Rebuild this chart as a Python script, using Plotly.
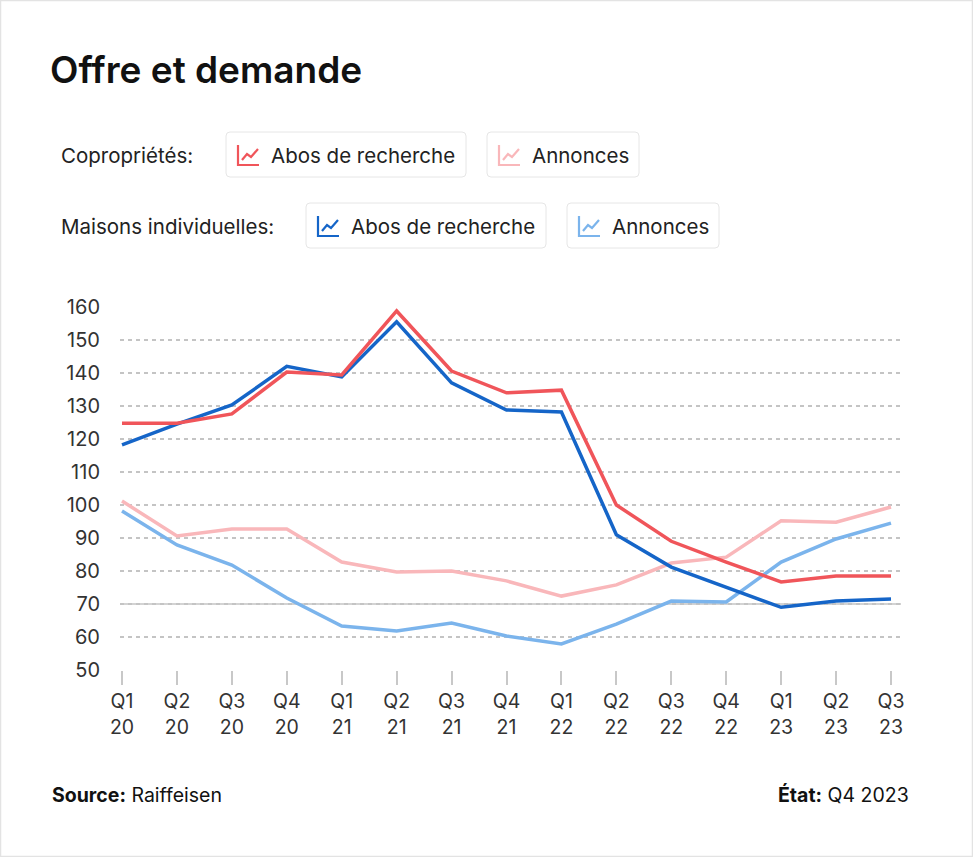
import plotly.graph_objects as go

# ---------------- data ----------------
quarters = ["Q1", "Q2", "Q3", "Q4", "Q1", "Q2", "Q3", "Q4", "Q1", "Q2", "Q3", "Q4", "Q1", "Q2", "Q3"]
years = ["20", "20", "20", "20", "21", "21", "21", "21", "22", "22", "22", "22", "23", "23", "23"]
tick_labels = [f"{q}<br>{y}" for q, y in zip(quarters, years)]

copro_abos = [124.8, 124.8, 127.6, 140.3, 139.4, 158.8, 140.6, 134.0, 134.8, 100.0, 89.0, 82.7, 76.7, 78.5, 78.5]
copro_annonces = [101.2, 90.6, 92.7, 92.7, 82.7, 79.7, 80.0, 77.0, 72.4, 75.8, 82.4, 84.2, 95.2, 94.8, 99.4]
maisons_abos = [118.2, 124.5, 130.3, 142.0, 138.8, 155.5, 137.0, 128.8, 128.2, 91.0, 81.2, 75.0, 69.0, 70.9, 71.5]
maisons_annonces = [98.2, 87.9, 81.8, 71.8, 63.3, 61.8, 64.2, 60.3, 57.9, 63.9, 70.9, 70.6, 82.7, 89.7, 94.5]

y_ticks = [50, 60, 70, 80, 90, 100, 110, 120, 130, 140, 150, 160]

RED = "#F0555A"
PINK = "#F9B7BA"
BLUE = "#1565C8"
LBLUE = "#7BB4EC"

FONT = "Inter"
TXT = "#222222"

# ---------------- layout geometry ----------------
FW, FH = 973, 857
L, R_EDGE, T, B = 120, 901, 307, 670
PW, PH = R_EDGE - L, B - T


def px(x):
    return (x - L) / PW


def py(y):
    return (B - y) / PH


x_idx = list(range(len(quarters)))
step = (891 - 122) / (len(quarters) - 1)
x_range = [-(122 - L) / step, (len(quarters) - 1) + (R_EDGE - 891) / step]

fig = go.Figure()
for vals, col in [(maisons_annonces, LBLUE), (copro_annonces, PINK), (maisons_abos, BLUE), (copro_abos, RED)]:
    fig.add_trace(go.Scatter(x=x_idx, y=vals, mode="lines",
                             line=dict(color=col, width=3.5), cliponaxis=False,
                             hoverinfo="skip"))

shapes = []
annotations = []

# outer card border
shapes.append(dict(type="rect", xref="paper", yref="paper",
                   x0=px(0.5), x1=px(FW - 0.5), y0=py(0.5), y1=py(FH - 0.5),
                   line=dict(color="#E3E3E3", width=1.5), fillcolor="rgba(0,0,0,0)", layer="below"))

# solid reference line at 70
shapes.append(dict(type="line", xref="paper", yref="y", x0=0, x1=1, y0=70, y1=70,
                   line=dict(color="#C4C4C4", width=1.5), layer="below"))

# title
annotations.append(dict(text="Offre et demande", xref="paper", yref="paper",
                        x=px(48), y=py(70), xanchor="left", yanchor="middle", showarrow=False,
                        font=dict(family=FONT, size=37, color="#111111", weight=600)))


def rounded_box(x0, y0, x1, y1, r=4):
    X0, X1 = px(x0), px(x1)
    Y0, Y1 = py(y0), py(y1)
    rx, ry = r / PW, r / PH
    path = (f"M {X0+rx},{Y0} L {X1-rx},{Y0} Q {X1},{Y0} {X1},{Y0-ry} "
            f"L {X1},{Y1+ry} Q {X1},{Y1} {X1-rx},{Y1} L {X0+rx},{Y1} "
            f"Q {X0},{Y1} {X0},{Y1+ry} L {X0},{Y0-ry} Q {X0},{Y0} {X0+rx},{Y0} Z")
    return dict(type="path", xref="paper", yref="paper", path=path,
                line=dict(color="#E6E6E6", width=1), fillcolor="white", layer="below")


def icon(x, y, col):
    # x,y = top-left pixel of 22x22 icon
    axes = f"M {px(x+1)},{py(y+1)} L {px(x+1)},{py(y+21)} L {px(x+22)},{py(y+21)}"
    zig = (f"M {px(x+5)},{py(y+16)} L {px(x+10)},{py(y+10)} L {px(x+14)},{py(y+13)} "
           f"L {px(x+21)},{py(y+5)}")
    return [dict(type="path", xref="paper", yref="paper", path=axes,
                 line=dict(color=col, width=2.2)),
            dict(type="path", xref="paper", yref="paper", path=zig,
                 line=dict(color=col, width=2.2))]


legend_rows = [
    ("Copropriétés:", 155, [(226, 466, RED, "Abos de recherche"), (487, 639, PINK, "Annonces")]),
    ("Maisons individuelles:", 226, [(306, 546, BLUE, "Abos de recherche"), (567, 719, LBLUE, "Annonces")]),
]
for label, yc, items in legend_rows:
    annotations.append(dict(text=label, xref="paper", yref="paper", x=px(59), y=py(yc),
                            xanchor="left", yanchor="middle", showarrow=False,
                            font=dict(family=FONT, size=20.5, color=TXT)))
    for bx0, bx1, col, txt in items:
        shapes.append(rounded_box(bx0, yc - 23, bx1, yc + 22))
        shapes.extend(icon(bx0 + 11, yc - 11, col))
        annotations.append(dict(text=txt, xref="paper", yref="paper", x=px(bx0 + 43), y=py(yc),
                                xanchor="left", yanchor="middle", showarrow=False,
                                font=dict(family=FONT, size=20.5, color=TXT)))

# footer
annotations.append(dict(text="<b>Source:</b> Raiffeisen", xref="paper", yref="paper",
                        x=px(50), y=py(795), xanchor="left", yanchor="middle", showarrow=False,
                        font=dict(family=FONT, size=19.5, color="#111111")))
annotations.append(dict(text="<b>État:</b> Q4 2023", xref="paper", yref="paper",
                        x=px(911), y=py(795), xanchor="right", yanchor="middle", showarrow=False,
                        font=dict(family=FONT, size=19.5, color="#111111")))

fig.update_layout(
    width=FW, height=FH,
    margin=dict(l=L, r=FW - R_EDGE, t=T, b=FH - B, autoexpand=False),
    paper_bgcolor="white", plot_bgcolor="white",
    showlegend=False,
    shapes=shapes, annotations=annotations,
    font=dict(family=FONT, color=TXT),
    xaxis=dict(range=x_range, tickmode="array", tickvals=x_idx, ticktext=tick_labels,
               showgrid=False, zeroline=False, showline=False,
               ticks="outside", ticklen=14, tickwidth=1.5, tickcolor="#C8C8C8",
               tickfont=dict(family=FONT, size=19.5, color="#333333")),
    yaxis=dict(range=[50, 160], tickmode="array", tickvals=y_ticks,
               showgrid=True, gridcolor="#C4C4C4", gridwidth=1.5, griddash="4px,4px",
               zeroline=False, showline=False, ticks="", ticklabelstandoff=19,
               tickfont=dict(family=FONT, size=20, color="#333333")),
)

fig.write_html("out.html")
